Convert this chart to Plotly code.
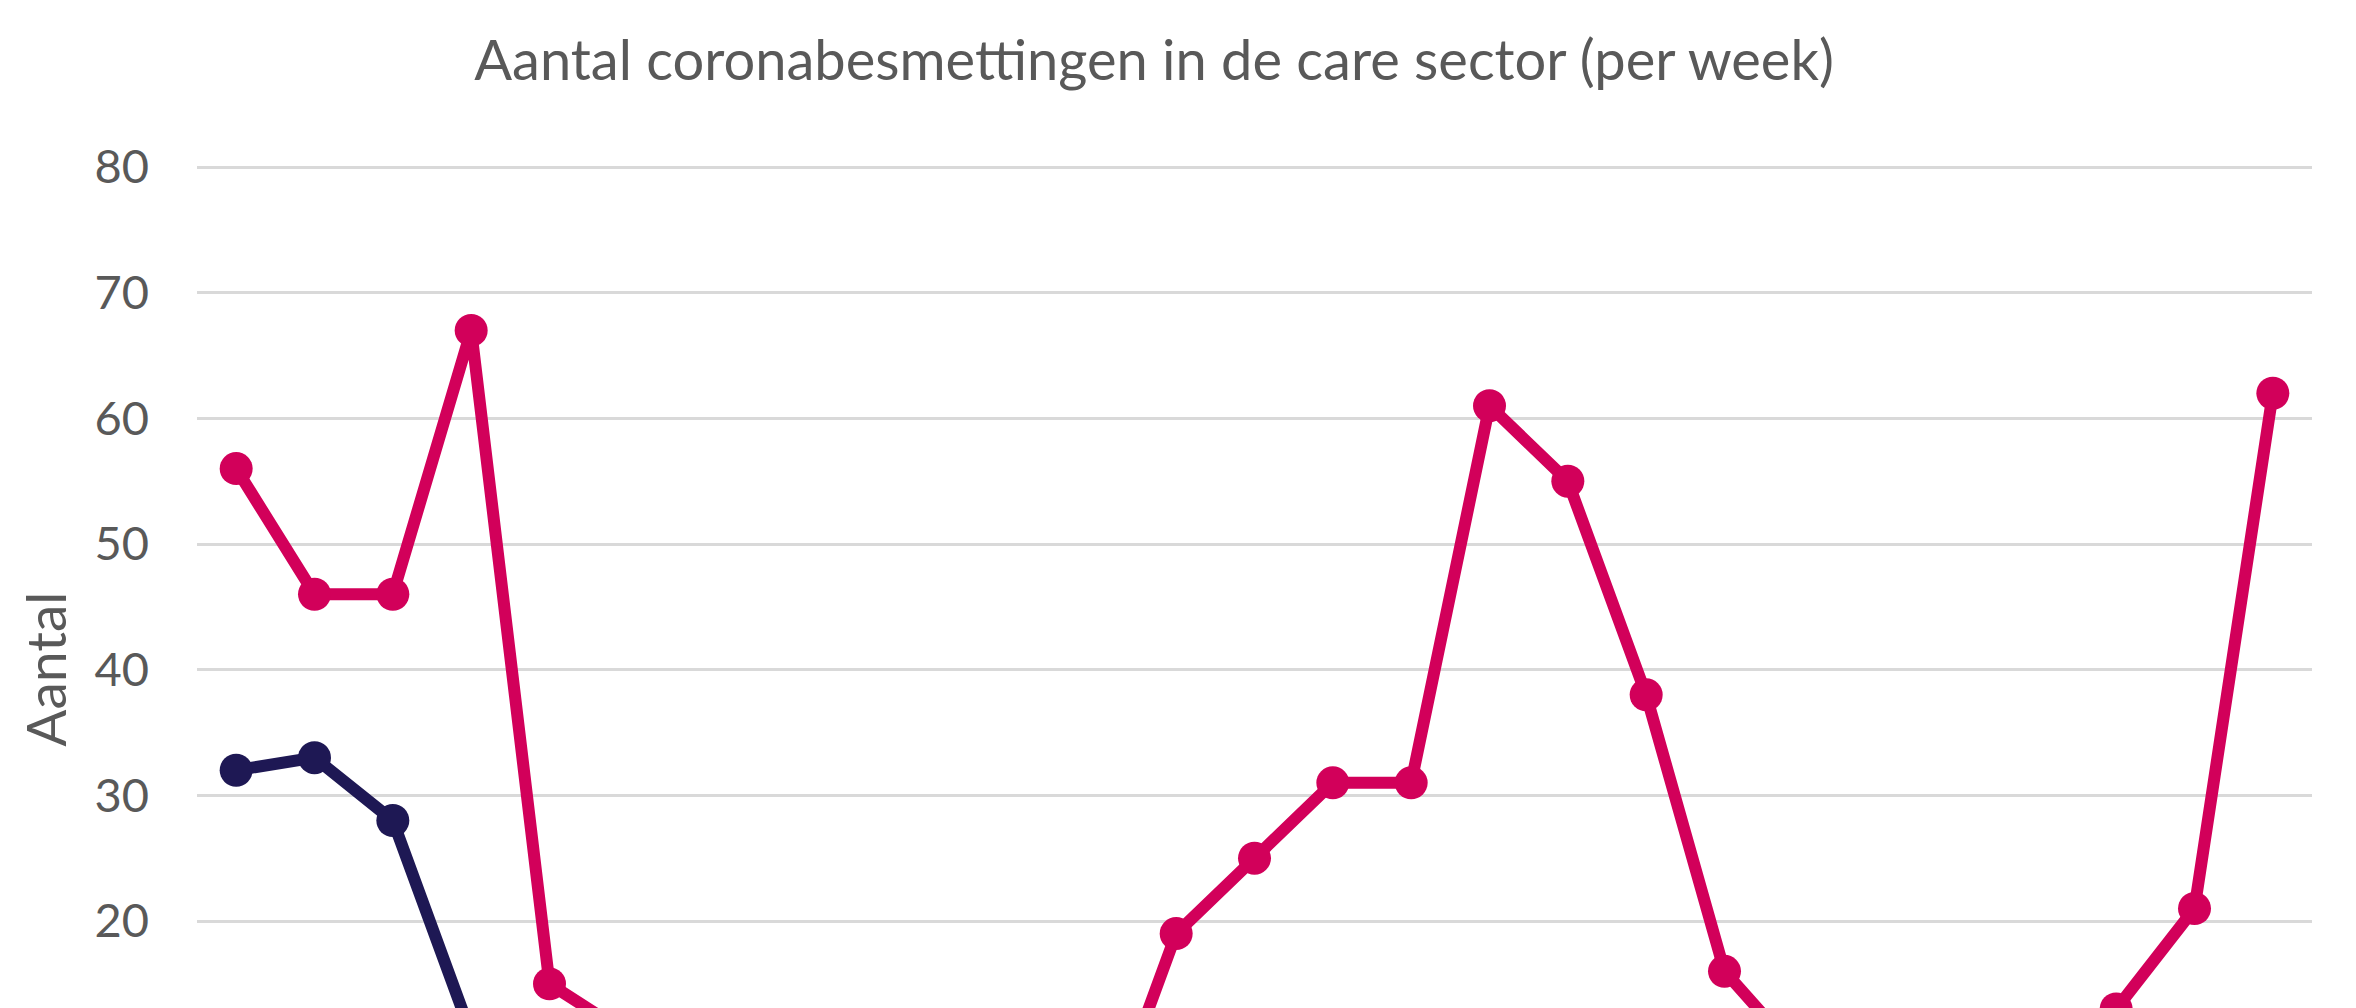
import plotly.graph_objects as go

# Week categories (x tick labels are cropped out in the reference)
weeks = ["1", "2", "3", "4", "5", "6", "7", "8", "9", "10", "11", "12", "13", "14",
         "15", "16", "17", "18", "19", "20", "21", "22", "23", "24", "25", "26", "27"]

# Series values (values below ~13 lie outside the visible crop; estimated)
care_pink = [56, 46, 46, 67, 15, 11, 7, 5, 4, 3, 2, 2, 19, 25, 31, 31, 61, 55, 38, 16,
             9, 5, 4, 6, 13, 21, 62]
care_navy = [32, 33, 28, 11, 7, 5, 4, 3, 3, 2, 2, 2, 3, 4, 5, 6, 7, 8, 6, 5,
             4, 3, 3, 4, 5, 6, 7]

y_ticks = [20, 30, 40, 50, 60, 70, 80]

PINK = "#D2005A"
NAVY = "#1E1854"
TEXT = "#595959"
FONT = "Lato"

# page has an 8px body margin; figure sized to fill the rest of the window
W, H = 2348, 1000
ML, MR, MT, MB = 189, 44, 112, 0
plot_w = W - ML - MR

fig = go.Figure()
fig.add_trace(go.Scatter(
    x=weeks, y=care_navy, mode="lines+markers",
    line=dict(color=NAVY, width=12),
    marker=dict(color=NAVY, size=33),
    showlegend=False,
))
fig.add_trace(go.Scatter(
    x=weeks, y=care_pink, mode="lines+markers",
    line=dict(color=PINK, width=12),
    marker=dict(color=PINK, size=33),
    showlegend=False,
))

fig.add_annotation(
    text="Aantal", textangle=-90,
    xref="paper", x=(37 - ML) / plot_w, xanchor="center",
    yref="y", y=40, yanchor="middle",
    showarrow=False,
    font=dict(family=FONT, size=55, color=TEXT),
)

fig.update_layout(
    width=W, height=H,
    margin=dict(l=ML, r=MR, t=MT, b=MB),
    paper_bgcolor="white", plot_bgcolor="white",
    font=dict(family=FONT, color=TEXT),
    title=dict(
        text="Aantal coronabesmettingen in de care sector (per week)",
        x=1146 / W, xanchor="center", xref="container",
        y=1 - 52 / H, yanchor="middle", yref="container",
        font=dict(family=FONT, size=56, color=TEXT),
    ),
    xaxis=dict(
        type="category", range=[-0.5, 26.5],
        showgrid=False, showline=False, zeroline=False,
        showticklabels=False, ticks="",
    ),
    yaxis=dict(
        range=[13.08, 83.74],
        tickvals=y_ticks,
        ticktext=[str(v) for v in y_ticks],
        showgrid=True, gridcolor="#D9D9D9", gridwidth=3,
        showline=False, zeroline=False, ticks="",
        tickfont=dict(family=FONT, size=47, color=TEXT),
        ticklabelstandoff=47,
    ),
)

fig.write_html("out.html")
